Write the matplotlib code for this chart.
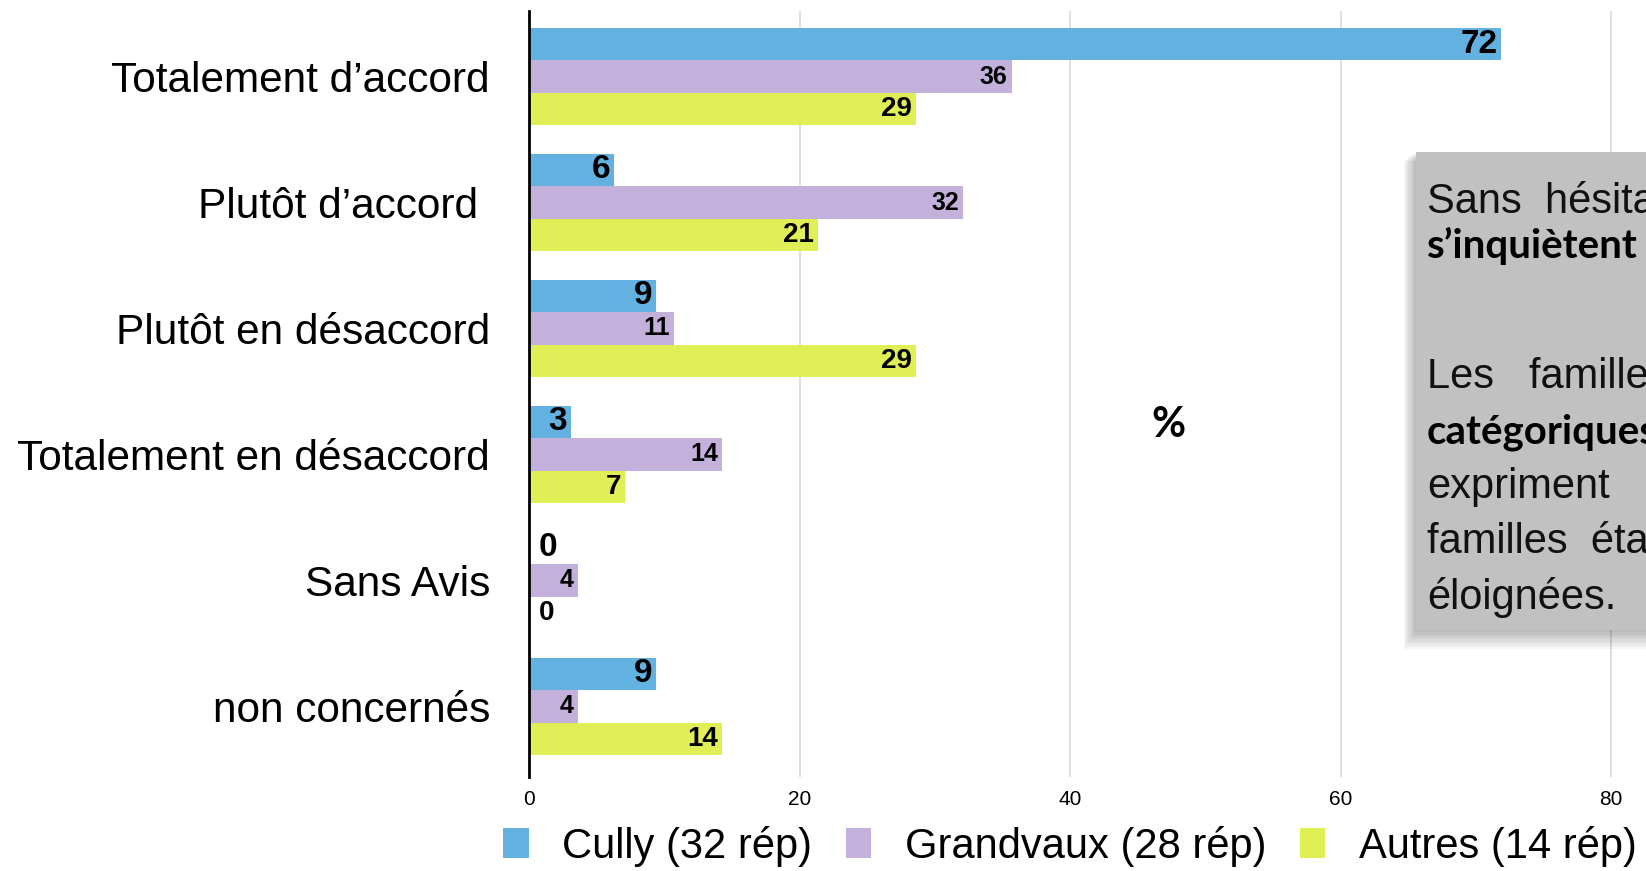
import matplotlib.pyplot as plt
import numpy as np
from matplotlib.patches import Rectangle

# Données (pourcentages par groupe)
categories = ["Totalement d’accord", "Plutôt d’accord ", "Plutôt en désaccord",
              "Totalement en désaccord", "Sans Avis", "non concernés"]
series = ["Cully (32 rép)", "Grandvaux (28 rép)", "Autres (14 rép)"]
cully = [71.9, 6.3, 9.4, 3.1, 0.0, 9.4]
grandvaux = [35.7, 32.1, 10.7, 14.3, 3.6, 3.6]
autres = [28.6, 21.4, 28.6, 7.1, 0.0, 14.3]
x_ticks = [0, 20, 40, 60, 80]

couleurs = ["#63b1e0", "#c4b1db", "#e1ef57"]
tailles_etiquettes = [24, 18, 20]

plt.rcParams['font.family'] = ['Liberation Sans', 'DejaVu Sans']

fig = plt.figure(figsize=(16.46, 8.71), dpi=100)
ax = fig.add_axes([529 / 1646, 1 - 777 / 871, 1 - 529 / 1646, (777 - 11) / 871])

y = np.arange(len(categories))
h = 0.258
valeurs = [cully, grandvaux, autres]
police_etiq = ["Liberation Sans Narrow", "Liberation Sans", "DejaVu Sans"]
for k, (vals, nom) in enumerate(zip(valeurs, series)):
    pos = y + (k - 1) * h
    ax.barh(pos, vals, height=h, color=couleurs[k], label=nom, zorder=2)
    for p, v in zip(pos, vals):
        if v == 0:
            ax.annotate("0", (0, p), xytext=(7, 0), textcoords="offset points",
                        ha="left", va="center", fontsize=tailles_etiquettes[k],
                        fontweight="bold", family=police_etiq)
        else:
            ax.annotate(f"{round(v):d}", (v, p), xytext=(-3, 0), textcoords="offset points",
                        ha="right", va="center", fontsize=tailles_etiquettes[k],
                        fontweight="bold", family=police_etiq)

ax.set_yticks(y)
ax.set_yticklabels(categories, fontsize=30.5)
ax.set_ylim(5.56, -0.52)
ax.set_xlim(0, (1646 - 529) / 13.525)
ax.set_xticks(x_ticks)
ax.tick_params(axis="x", length=0, labelsize=15, pad=9)
ax.tick_params(axis="y", length=0, pad=28)
ax.grid(axis="x", color="#d9d9d9", linewidth=1.2, zorder=0)
for s in ["top", "right", "bottom"]:
    ax.spines[s].set_visible(False)
ax.spines["left"].set_linewidth(2)
ax.spines["left"].set_zorder(3)

ax.text(47.3, 2.77, "%", fontsize=30, fontweight="bold", family=["Lato", "DejaVu Sans"],
        ha="center", va="center")

fig.legend(loc="center", bbox_to_anchor=(0.65, 1 - 846 / 871), ncol=3, frameon=False,
           fontsize=30, handlelength=0.62, handleheight=0.72, handletextpad=0.8,
           columnspacing=0.8, borderaxespad=0)

# Encadré de commentaire (coordonnées en pixels)
ov = fig.add_axes([0, 0, 1, 1], zorder=5)
ov.set_xlim(0, 1646)
ov.set_ylim(871, 0)
ov.axis("off")
for i in range(8):
    d = 2 + i * 2.2
    ov.add_patch(Rectangle((1416 - d * 0.7, 152 + d * 0.5), 400, 478 + d * 0.6,
                           facecolor="black", alpha=0.035, edgecolor="none"))
ov.add_patch(Rectangle((1416, 152), 400, 478, facecolor="#c1c1c1", edgecolor="none"))

lignes = [
    ("Sans  hésitation", 202, False),
    ("s’inquiètent", 246, True),
    ("Les   familles", 377, False),
    ("catégoriques", 432, True),
    ("expriment", 487, False),
    ("familles  étant", 542, False),
    ("éloignées.", 597, False),
]
for txt, yy, gras in lignes:
    if gras:
        ov.text(1427, yy, txt, fontsize=29, fontweight="bold", family=["Lato", "DejaVu Sans"],
                ha="left", va="center", color="black")
    else:
        ov.text(1427, yy, txt, fontsize=30, ha="left", va="center", color="#111111")

fig.savefig("out.png", dpi=100)
